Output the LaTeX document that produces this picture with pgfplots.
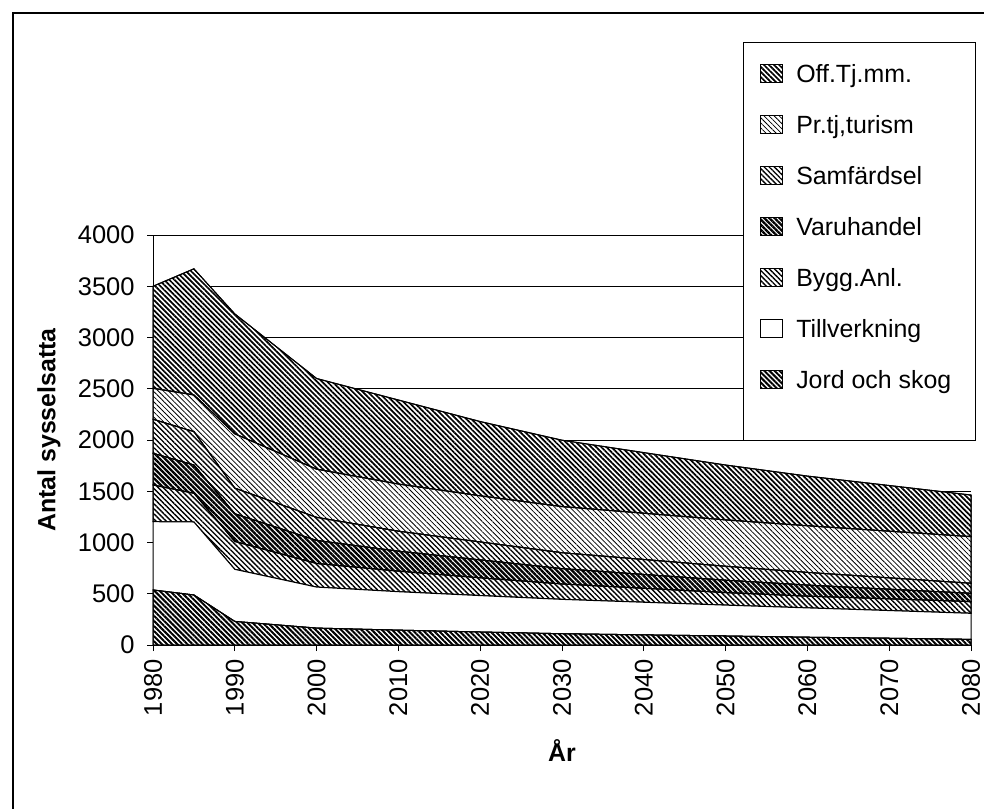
\documentclass[border=0pt]{standalone}
\usepackage{fontspec}
\setmainfont{Liberation Sans}
\usepackage{pgfplots}
\pgfplotsset{compat=1.18}
\usepackage{pgfplotstable}
\usetikzlibrary{patterns.meta}

\pgfplotstableread{
year jord till bygg varu samf prtj off
1980 537 666 358 309 332 302 996
1985 488 712 280 276 325 358 1231
1990 230 508 272 270 250 530 1170
2000 165 400 230 225 225 470 885
2010 145 375 200 195 195 460 820
2020 127 355 173 175 175 450 725
2030 110 335 150 150 155 450 648
2040 99 318 136 135 146 451 592
2050 88 301 122 121 136 452 536
2060 76 286 114 108 124 455 485
2070 66 270 114 94 111 455 446
2080 55 254 114 81 98 455 406
}\datatable

\begin{document}
\begin{tikzpicture}[x=1bp,y=1bp]
\useasboundingbox (0,0) rectangle (492,404);
\draw[line width=1bp] (6.5,-1) -- (6.5,397.5) -- (493,397.5);
\begin{axis}[
  at={(76.5bp,81.5bp)}, anchor=south west,
  scale only axis, width=409bp, height=205bp,
  xmin=1980, xmax=2080, ymin=0, ymax=4000,
  clip=false,
  axis x line*=bottom, axis y line*=left,
  axis line style={black, line width=0.5bp},
  xtick={1980,1990,...,2080},
  ytick={0,500,...,4000},
  tick align=outside,
  major tick length=3bp,
  tick style={black, line width=0.5bp},
  ymajorgrids,
  grid style={black, line width=0.5bp},
  /pgf/number format/assume math mode=true,
  /pgf/number format/1000 sep={},
  tick label style={font=\fontsize{12.8}{15}\selectfont},
  xticklabel style={rotate=90, anchor=east, inner xsep=4bp, inner ysep=0pt},
  yticklabel style={anchor=east, inner xsep=6bp},
  xlabel={År},
  ylabel={Antal sysselsatta},
  every axis x label/.style={at={(axis description cs:0.5,-0.2585)}, anchor=center, font=\bfseries\fontsize{12.5}{15}\selectfont},
  every axis y label/.style={at={(axis description cs:-0.1271,0.5244)}, anchor=center, rotate=90, font=\bfseries\fontsize{12.5}{15}\selectfont},
  stack plots=y,
  reverse legend,
  legend cell align=left,
  legend style={at={(axis description cs:0.7421,1.4171)}, anchor=north west, draw=none, fill=none, inner sep=0pt, row sep=13.3bp, nodes={inner sep=0pt, text height=9bp, text depth=3bp, font=\fontsize{12.5}{15}\selectfont}, /tikz/every odd column/.append style={column sep=6.5bp}},
  legend image code/.code={\draw[#1, line width=0.4bp] (0bp,-3bp) rectangle (11bp,6bp);},
]
\addplot[draw=black, line width=0.5bp, preaction={fill=white}, pattern={Lines[angle=-45,distance=1.8bp,line width=1.0bp]}] table[x=year,y=jord]{\datatable} \closedcycle;
\addlegendentry{Jord och skog}
\addplot[draw=black, line width=0.5bp, fill=white] table[x=year,y=till]{\datatable} \closedcycle;
\addlegendentry{Tillverkning}
\addplot[draw=black, line width=0.5bp, preaction={fill=white}, pattern={Lines[angle=-45,distance=1.8bp,line width=0.7bp]}] table[x=year,y=bygg]{\datatable} \closedcycle;
\addlegendentry{Bygg.Anl.}
\addplot[draw=black, line width=0.5bp, preaction={fill=white}, pattern={Lines[angle=-45,distance=1.8bp,line width=1.15bp]}] table[x=year,y=varu]{\datatable} \closedcycle;
\addlegendentry{Varuhandel}
\addplot[draw=black, line width=0.5bp, preaction={fill=white}, pattern={Lines[angle=-45,distance=1.8bp,line width=0.65bp]}] table[x=year,y=samf]{\datatable} \closedcycle;
\addlegendentry{Samfärdsel}
\addplot[draw=black, line width=0.5bp, preaction={fill=white}, pattern={Lines[angle=-45,distance=1.8bp,line width=0.4bp]}] table[x=year,y=prtj]{\datatable} \closedcycle;
\addlegendentry{Pr.tj,turism}
\addplot[draw=black, line width=0.5bp, preaction={fill=white}, pattern={Lines[angle=-45,distance=1.8bp,line width=0.85bp]}] table[x=year,y=off]{\datatable} \closedcycle;
\addlegendentry{Off.Tj.mm.}
\draw[fill=white, draw=black, line width=0.5bp] (rel axis cs:0.7213,1.4707) rectangle (rel axis cs:1.0049,0.4976);
\end{axis}
\end{tikzpicture}
\end{document}
